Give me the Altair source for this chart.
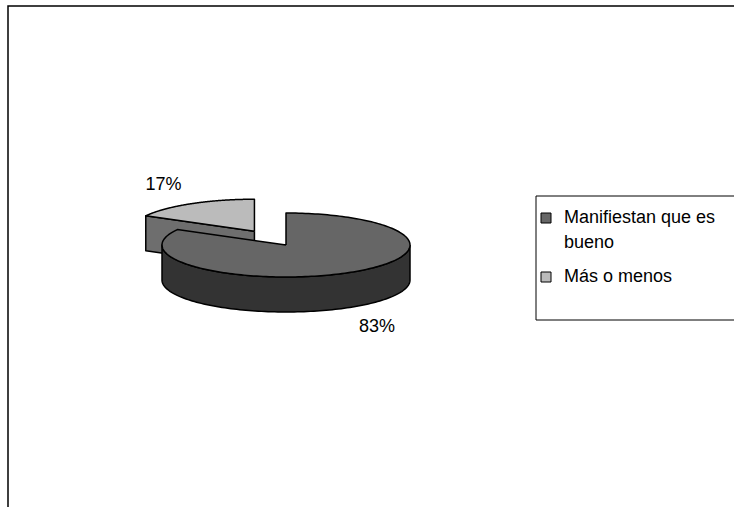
import numpy as np
import pandas as pd
import altair as alt

# ---- data ----
CATEGORIES = ["Manifiestan que es bueno", "Más o menos"]
VALUES = [83, 17]
LEGEND_TEXT = ["Manifiestan que es\nbueno", "Más o menos"]
TOP_COLORS = ["#666666", "#bbbbbb"]
SIDE_COLORS = ["#333333", "#6e6e6e"]
EXPLODE = [0.0, 0.5]

# ---- layout (pixels) ----
W, H = 734, 507
CX, CY, RX, RY = 286, 245, 124, 32
DEPTH = 35 / 32           # side thickness in RY units
LABEL_KX, LABEL_KY = 1.44, 1.69
FONT = "Liberation Sans"

X0, X1 = -CX / RX, (W - CX) / RX
Y0, Y1 = -(H - CY) / RY, CY / RY

total = float(sum(VALUES))
polys = []
labels = []
start = 0.0
for k, (cat, v) in enumerate(zip(CATEGORIES, VALUES)):
    a0 = start
    a1 = start + 360.0 * v / total
    start = a1
    mid = np.radians((a0 + a1) / 2)
    ox, oy = EXPLODE[k] * np.sin(mid), EXPLODE[k] * np.cos(mid)
    depth_key = np.cos(mid)  # larger = further back
    slice_polys = []

    # cut faces
    for ang, is_start in ((a0, True), (a1, False)):
        r = np.radians(ang)
        vis = np.sin(r) < -1e-6 if is_start else np.sin(r) > 1e-6
        if vis:
            px, py = ox + np.sin(r), oy + np.cos(r)
            pts = [(ox, oy), (px, py), (px, py - DEPTH), (ox, oy - DEPTH), (ox, oy)]
            slice_polys.append(("cut", SIDE_COLORS[k], pts))
    # outer side (front half 90..270)
    lo, hi = max(a0, 90.0), min(a1, 270.0)
    if hi > lo:
        t = np.radians(np.linspace(lo, hi, 120))
        top = [(ox + np.sin(a), oy + np.cos(a)) for a in t]
        bot = [(ox + np.sin(a), oy + np.cos(a) - DEPTH) for a in t[::-1]]
        pts = top + bot + [top[0]]
        slice_polys.append(("side", SIDE_COLORS[k], pts))
    # top face
    t = np.radians(np.linspace(a0, a1, 200))
    pts = [(ox, oy)] + [(ox + np.sin(a), oy + np.cos(a)) for a in t] + [(ox, oy)]
    slice_polys.append(("top", None, pts))

    for j, (kind, col, pts) in enumerate(slice_polys):
        df = pd.DataFrame(pts, columns=["x", "y"])
        df["i"] = np.arange(len(df))
        df["category"] = cat
        polys.append(((-depth_key, j), kind, col, df))

    ly = oy + LABEL_KY * np.cos(mid)
    if np.cos(mid) < 0:
        ly -= DEPTH
    labels.append({"x": ox + LABEL_KX * np.sin(mid), "y": ly,
                   "text": f"{round(100 * v / total)}%"})

polys.sort(key=lambda p: p[0])

xs = alt.Scale(domain=[X0, X1], nice=False, zero=False)
ys = alt.Scale(domain=[Y0, Y1], nice=False, zero=False)
color_scale = alt.Scale(domain=CATEGORIES, range=TOP_COLORS)

layers = []
blank = pd.DataFrame({"a": [0]})

frame = alt.Chart(blank).mark_rect(fillOpacity=0, stroke="black", strokeWidth=1.5).encode(
    x=alt.value(8), x2=alt.value(W + 20), y=alt.value(6), y2=alt.value(H + 20))
layers.append(frame)

for _, kind, col, df in polys:
    enc = dict(
        x=alt.X("x:Q", scale=xs, axis=None),
        y=alt.Y("y:Q", scale=ys, axis=None),
        order=alt.Order("i:Q"),
    )
    if kind == "top":
        enc["fill"] = alt.Fill("category:N", scale=color_scale, legend=None)
        mark = alt.Chart(df).mark_line(stroke="black", strokeWidth=1.5,
                                       strokeJoin="round", interpolate="linear")
    else:
        mark = alt.Chart(df).mark_line(fill=col, stroke="black", strokeWidth=1.5,
                                       strokeJoin="round", interpolate="linear")
    layers.append(mark.encode(**enc))

label_layer = alt.Chart(pd.DataFrame(labels)).mark_text(
    font=FONT, fontSize=18, color="black", align="center", baseline="middle"
).encode(
    x=alt.X("x:Q", scale=xs, axis=None),
    y=alt.Y("y:Q", scale=ys, axis=None),
    text="text:N",
)
layers.append(label_layer)

# legend
legend_box = alt.Chart(blank).mark_rect(fill="white", stroke="black", strokeWidth=1).encode(
    x=alt.value(536), x2=alt.value(W + 20), y=alt.value(196), y2=alt.value(320))
layers.append(legend_box)

LEG_BASELINES = [223, 282]
leg_df = pd.DataFrame({"category": CATEGORIES, "label": LEGEND_TEXT})
for cat, base in zip(CATEGORIES, LEG_BASELINES):
    sw = alt.Chart(leg_df).transform_filter(alt.datum.category == cat).mark_rect(
        stroke="black", strokeWidth=1).encode(
        x=alt.value(541), x2=alt.value(551), y=alt.value(base - 10), y2=alt.value(base),
        fill=alt.Fill("category:N", scale=color_scale, legend=None))
    tx = alt.Chart(leg_df).transform_filter(alt.datum.category == cat).mark_text(
        font=FONT, fontSize=18, color="black", align="left", baseline="alphabetic",
        lineBreak="\n", lineHeight=25).encode(
        x=alt.value(564), y=alt.value(base), text="label:N")
    layers += [sw, tx]

chart = alt.layer(*layers).properties(
    width=W, height=H, autosize=alt.AutoSizeParams(type="none"), padding=0
).configure_view(stroke=None)

chart.save("out.html", embed_options={"renderer": "svg", "actions": False})
